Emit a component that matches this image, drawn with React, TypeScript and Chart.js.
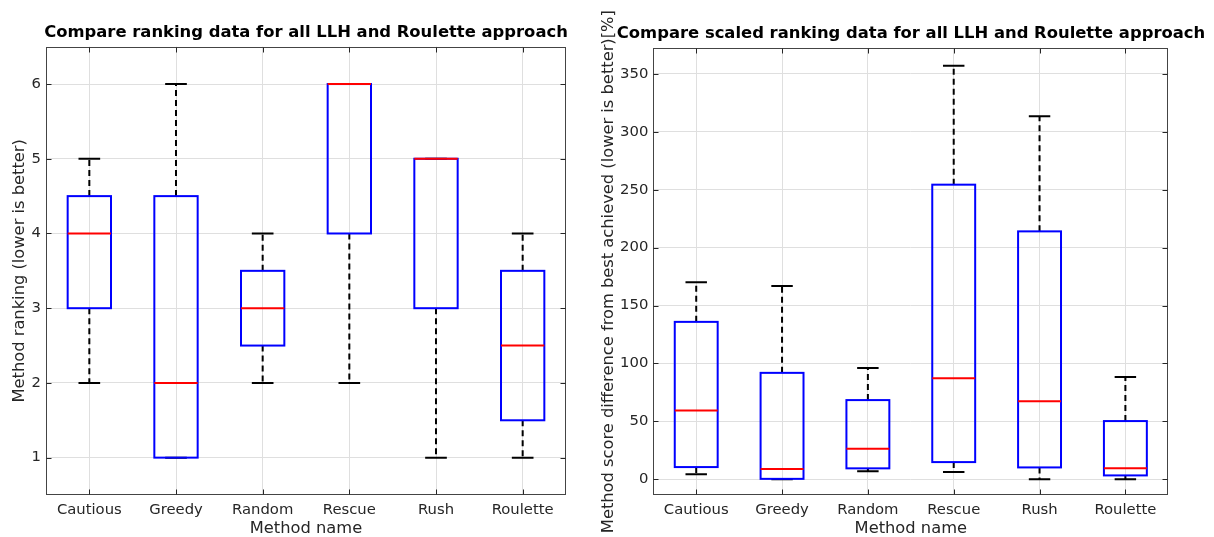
import React, { useEffect, useRef } from 'react';
import { Chart, registerables } from 'chart.js';

Chart.register(...registerables);

// ---------- data ----------
const categories = ['Cautious', 'Greedy', 'Random', 'Rescue', 'Rush', 'Roulette'];

const rankTicks = [1, 2, 3, 4, 5, 6];
const rankLow = [2, 1, 2, 2, 1, 1];
const rankQ1 = [3, 1, 2.5, 4, 3, 1.5];
const rankMedian = [4, 2, 3, 6, 5, 2.5];
const rankQ3 = [4.5, 4.5, 3.5, 6, 5, 3.5];
const rankHigh = [5, 6, 4, 6, 5, 4];

const scaledTicks = [0, 50, 100, 150, 200, 250, 300, 350];
const scaledLow = [4.3, 0, 6.9, 6.3, 0, 0];
const scaledQ1 = [10.6, 0, 9.5, 14.9, 10.3, 3.4];
const scaledMedian = [59.5, 8.9, 26.4, 87.3, 67.5, 9.5];
const scaledQ3 = [135.9, 91.9, 68.4, 254.3, 214, 50.3];
const scaledHigh = [170, 166.9, 96.2, 356.9, 313.4, 88.4];

const FONT = 'DejaVu Sans';
const TEXT = '#262626';
const GRID = '#dfdfdf';

type Stats = { low: number[]; med: number[]; high: number[] };

function makeBoxPlugin(stats: Stats) {
  return {
    id: 'boxplotDecor',
    beforeDatasetsDraw(chart: any) {
      const { ctx, chartArea: a, scales } = chart;
      const x = scales.x;
      const y = scales.y;
      ctx.save();
      // frame
      ctx.strokeStyle = '#444';
      ctx.lineWidth = 1;
      const l = Math.round(a.left) + 0.5;
      const t = Math.round(a.top) + 0.5;
      const r = Math.round(a.right) - 0.5;
      const b = Math.round(a.bottom) - 0.5;
      ctx.strokeRect(l, t, r - l, b - t);
      // inward tick marks
      ctx.strokeStyle = TEXT;
      ctx.beginPath();
      x.ticks.forEach((_: any, i: number) => {
        const px = Math.round(x.getPixelForTick(i)) + 0.5;
        ctx.moveTo(px, t);
        ctx.lineTo(px, t + 5);
        ctx.moveTo(px, b);
        ctx.lineTo(px, b - 5);
      });
      y.ticks.forEach((tk: any) => {
        const py = Math.round(y.getPixelForValue(tk.value)) + 0.5;
        ctx.moveTo(l, py);
        ctx.lineTo(l + 5, py);
        ctx.moveTo(r, py);
        ctx.lineTo(r - 5, py);
      });
      ctx.stroke();
      ctx.restore();
    },
    afterDatasetsDraw(chart: any) {
      const { ctx, scales } = chart;
      const y = scales.y;
      const meta = chart.getDatasetMeta(0);
      ctx.save();
      meta.data.forEach((bar: any, i: number) => {
        const p = bar.getProps(['x', 'y', 'base', 'width'], true);
        const cx = p.x;
        const w = p.width;
        const yTop = Math.min(p.y, p.base);
        const yBot = Math.max(p.y, p.base);
        const yHi = y.getPixelForValue(stats.high[i]);
        const yLo = y.getPixelForValue(stats.low[i]);
        const yMed = y.getPixelForValue(stats.med[i]);
        // whiskers
        ctx.strokeStyle = '#000';
        ctx.lineWidth = 2;
        ctx.setLineDash([6, 4]);
        ctx.beginPath();
        if (yHi < yTop) {
          ctx.moveTo(cx, yTop);
          ctx.lineTo(cx, yHi);
        }
        if (yLo > yBot) {
          ctx.moveTo(cx, yBot);
          ctx.lineTo(cx, yLo);
        }
        ctx.stroke();
        // caps
        ctx.setLineDash([]);
        ctx.beginPath();
        ctx.moveTo(cx - w / 4, yHi);
        ctx.lineTo(cx + w / 4, yHi);
        ctx.moveTo(cx - w / 4, yLo);
        ctx.lineTo(cx + w / 4, yLo);
        ctx.stroke();
        // box
        ctx.strokeStyle = '#0000ff';
        ctx.strokeRect(cx - w / 2, yTop, w, yBot - yTop);
        // median
        ctx.strokeStyle = '#ff0000';
        ctx.beginPath();
        ctx.moveTo(cx - w / 2, yMed);
        ctx.lineTo(cx + w / 2, yMed);
        ctx.stroke();
      });
      ctx.restore();
    },
  };
}

type Cfg = {
  title: string;
  yTitle: string;
  q1: number[];
  q3: number[];
  stats: Stats;
  yMin: number;
  yMax: number;
  yTicks: number[];
  titlePadTop: number;
  titlePadBottom: number;
  yWidth: number;
  yTitlePad: number;
  rightWidth: number;
};

function makeConfig(c: Cfg): any {
  return {
    type: 'bar',
    data: {
      labels: categories,
      datasets: [
        {
          data: c.q1.map((v, i) => [v, c.q3[i]]),
          backgroundColor: 'rgba(0,0,0,0)',
          borderWidth: 0,
          barPercentage: 0.5,
          categoryPercentage: 1.0,
        },
      ],
    },
    options: {
      responsive: false,
      animation: false,
      devicePixelRatio: 1,
      events: [],
      layout: { padding: 0 },
      plugins: {
        legend: { display: false },
        tooltip: { enabled: false },
        title: {
          display: true,
          text: c.title,
          color: '#000',
          font: { family: FONT, size: 16.4, weight: 'bold', lineHeight: 1.2 },
          padding: { top: c.titlePadTop, bottom: c.titlePadBottom },
        },
      },
      scales: {
        x: {
          type: 'category',
          grid: { offset: false, color: GRID, drawTicks: false, lineWidth: 1 },
          border: { display: false },
          ticks: { color: TEXT, padding: 6, font: { family: FONT, size: 14.8 } },
          title: {
            display: true,
            text: 'Method name',
            color: TEXT,
            font: { family: FONT, size: 16.3, lineHeight: 1 },
            padding: { top: 0, bottom: 0 },
          },
          afterFit: (s: any) => {
            s.height = 42;
          },
        },
        y: {
          type: 'linear',
          position: 'left',
          min: c.yMin,
          max: c.yMax,
          afterBuildTicks: (s: any) => {
            s.ticks = c.yTicks.map((v) => ({ value: v }));
          },
          grid: { color: GRID, drawTicks: false, lineWidth: 1 },
          border: { display: false },
          ticks: { color: TEXT, padding: 5, font: { family: FONT, size: 14.8 } },
          title: {
            display: true,
            text: c.yTitle,
            color: TEXT,
            font: { family: FONT, size: 16.3, lineHeight: 1 },
            padding: { top: c.yTitlePad, bottom: 0 },
          },
          afterFit: (s: any) => {
            s.width = c.yWidth;
          },
        },
        yRight: {
          type: 'linear',
          position: 'right',
          display: true,
          grid: { display: false, drawTicks: false },
          border: { display: false },
          ticks: { display: false },
          afterFit: (s: any) => {
            s.width = c.rightWidth;
          },
        },
      },
    },
    plugins: [makeBoxPlugin(c.stats)],
  };
}

function BoxChart({ cfg, left, width }: { cfg: Cfg; left: number; width: number }) {
  const ref = useRef<HTMLCanvasElement | null>(null);
  useEffect(() => {
    if (!ref.current) return;
    const chart = new Chart(ref.current, makeConfig(cfg));
    return () => chart.destroy();
  }, []);
  return (
    <canvas
      ref={ref}
      width={width}
      height={537}
      style={{ position: 'absolute', left, top: 0, width, height: 537, display: 'block' }}
    />
  );
}

const leftCfg: Cfg = {
  title: 'Compare ranking data for all LLH and Roulette approach',
  yTitle: 'Method ranking (lower is better)',
  q1: rankQ1,
  q3: rankQ3,
  stats: { low: rankLow, med: rankMedian, high: rankHigh },
  yMin: 0.5,
  yMax: 6.5,
  yTicks: rankTicks,
  titlePadTop: 22.5,
  titlePadBottom: 4.5,
  yWidth: 46,
  yTitlePad: 11.8,
  rightWidth: 46,
};

const rightCfg: Cfg = {
  title: 'Compare scaled ranking data for all LLH and Roulette approach',
  yTitle: 'Method score difference from best achieved (lower is better)[%]',
  q1: scaledQ1,
  q3: scaledQ3,
  stats: { low: scaledLow, med: scaledMedian, high: scaledHigh },
  yMin: -13.5,
  yMax: 372,
  yTicks: scaledTicks,
  titlePadTop: 23.5,
  titlePadBottom: 5.1,
  yWidth: 63.3,
  yTitlePad: 10.2,
  rightWidth: 63.7,
};

export default function App() {
  return (
    <div
      style={{
        position: 'fixed',
        left: 0,
        top: 0,
        width: 1214,
        height: 537,
        background: '#fff',
        overflow: 'hidden',
      }}
    >
      <BoxChart cfg={leftCfg} left={0} width={612} />
      <BoxChart cfg={rightCfg} left={590} width={642} />
    </div>
  );
}
